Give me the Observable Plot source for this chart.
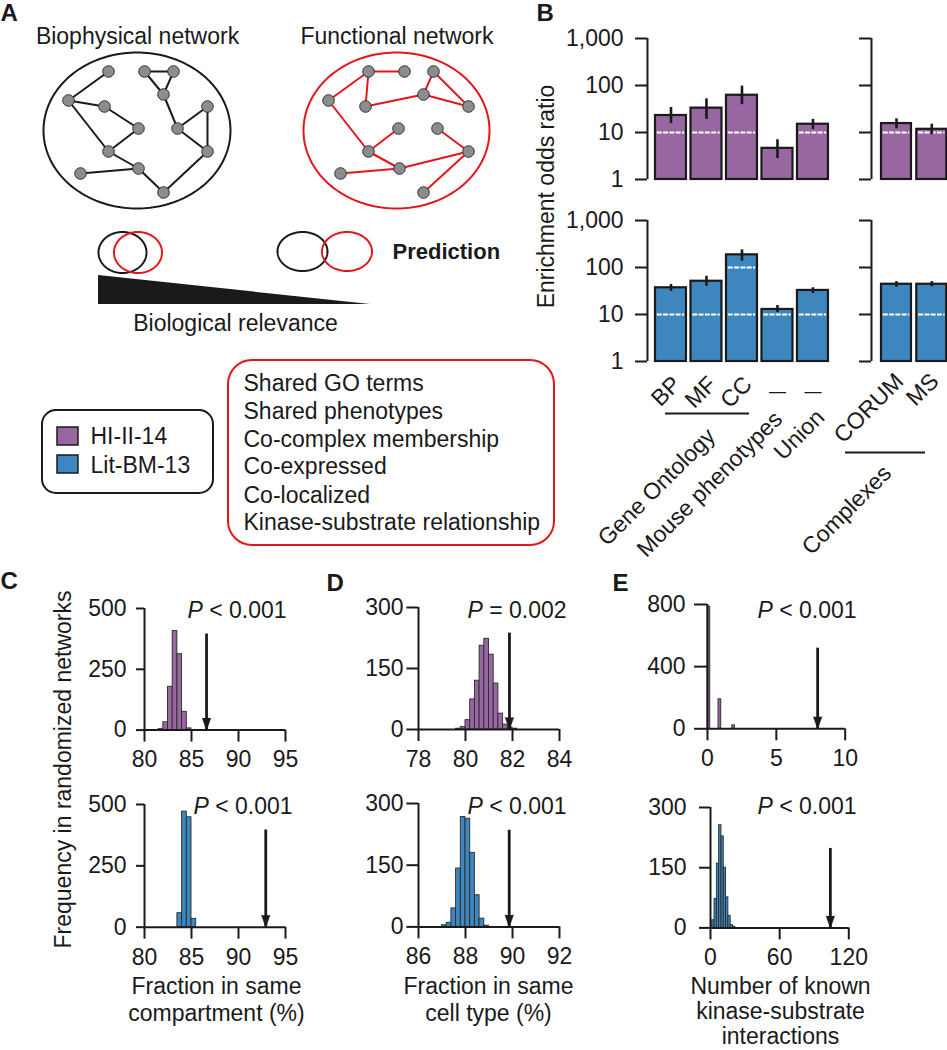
<!DOCTYPE html>
<html><head><meta charset="utf-8">
<script src="https://cdn.jsdelivr.net/npm/d3@7"></script>
<script src="https://cdn.jsdelivr.net/npm/@observablehq/plot@0.6"></script>
<style>
html,body{margin:0;padding:0;background:#fff;}
#page{position:relative;width:947px;height:1050px;overflow:hidden;background:#fff;font-family:"Liberation Sans",Arial,sans-serif;}
#page > div{position:absolute;}
</style></head><body><div id="page"></div>
<script>
// ---------------- DATA ----------------
const purple = "#9867a2", blue = "#3d87be", red = "#e3161c", ink = "#1a1a1a", nodeGray = "#8c8c8c";

// Panel A: network sketches (node coordinates in sketch units) and edges
const bioNodes = [[108,71],[144,71],[173,71],[163,94],[68,100],[104,106],[207,106],[138,128],[177,128],[108,151],[207,151],[138,168],[80,173],[163,192]];
const bioEdges = [[0,4],[4,5],[4,9],[5,7],[7,9],[9,11],[12,11],[11,13],[13,10],[10,8],[8,6],[6,10],[8,3],[3,1],[3,2],[1,2]];
const funNodes = [[368,71],[404,71],[433,71],[423,94],[328,100],[365,106],[468,106],[398,128],[437,128],[368,151],[468,151],[399,168],[340,173],[423,192]];
const funEdges = [[0,1],[0,4],[0,5],[5,3],[3,2],[3,6],[2,6],[4,9],[9,7],[9,11],[12,11],[11,10],[8,10],[10,13]];
const networkTitles = ["Biophysical network", "Functional network"];
const legendNames = ["HI-II-14", "Lit-BM-13"];
const featureList = ["Shared GO terms","Shared phenotypes","Co-complex membership","Co-expressed","Co-localized","Kinase-substrate relationship"];

// Panel B: enrichment odds ratios (log scale) with error bounds
const goCategories = ["BP","MF","CC","Mouse phenotypes","Union"];
const goTickLabels = ["BP","MF","CC","\u2014","\u2014"];
const complexCategories = ["CORUM","MS"];
const hiOdds = [23, 33, 62, 4.6, 15];
const hiLow  = [15.5, 19, 39, 2.8, 11.5];
const hiHigh = [34, 52, 97, 7, 19];
const hiComplexOdds = [15.5, 11.7];
const hiComplexLow  = [12, 9];
const hiComplexHigh = [19.5, 15];
const litOdds = [37, 51, 186, 12.8, 32.5];
const litLow  = [31, 40, 136, 11, 28];
const litHigh = [43.5, 65, 237, 15.5, 37];
const litComplexOdds = [44, 44];
const litComplexLow  = [38, 39];
const litComplexHigh = [50, 50];
const oddsTicks = [1, 10, 100, 1000];
const oddsGrid = [10, 100];

// Panels C-E: histograms of randomized networks
const cHiStarts = [81.5, 82, 82.5, 83, 83.5, 84, 84.5];
const cHiCounts = [4, 32, 178, 407, 312, 75, 7];
const cLitStarts = [83.5, 84, 84.5, 85];
const cLitCounts = [57, 471, 448, 34];
const dHiStarts = [79.6, 79.8, 80.0, 80.2, 80.4, 80.6, 80.8, 81.0, 81.2, 81.4, 81.6, 81.8, 82.0];
const dHiCounts = [2, 6, 23, 74, 120, 206, 223, 184, 113, 39, 12, 5, 2];
const dLitStarts = [87.0, 87.2, 87.4, 87.6, 87.8, 88.0, 88.2, 88.4, 88.6, 88.8];
const dLitCounts = [4, 10, 45, 142, 267, 263, 180, 77, 20, 3];
const eHiStarts = [0, 0.8, 1.8];
const eHiCounts = [785, 190, 22];
const eLitStarts = [1.5, 3.5, 5.5, 7.5, 9.5, 11.5, 13.5, 15.5, 17.5, 19.5];
const eLitCounts = [19, 72, 160, 256, 228, 150, 76, 30, 7, 3];
const observed = {cHi: 86.6, cLit: 92.9, dHi: 81.87, dLit: 89.86, eHi: 8, eLit: 104};
const pLabels = {cHi: "< 0.001", cLit: "< 0.001", dHi: "= 0.002", dLit: "< 0.001", eHi: "< 0.001", eLit: "< 0.001"};
const cTicksX = [80, 85, 90, 95], cTicksY = [0, 250, 500];
const dTicksXHi = [78, 80, 82, 84], dTicksXLit = [86, 88, 90, 92], dTicksY = [0, 150, 300];
const eTicksXHi = [0, 5, 10], eTicksYHi = [0, 400, 800];
const eTicksXLit = [0, 60, 120], eTicksYLit = [0, 150, 300];

// ---------------- LAYOUT ----------------
const FS = 23;
const FONT = "'Liberation Sans', Arial, sans-serif";
const baseStyle = {background: "transparent", overflow: "visible", maxWidth: "none", fontFamily: FONT, fontSize: FS + "px", color: ink};
const page = document.getElementById("page");
function mount(el, left, top) {
  const div = document.createElement("div");
  div.style.left = left + "px"; div.style.top = top + "px";
  div.appendChild(el); page.appendChild(div);
}
function framed(frame, pad, options) {
  const el = Plot.plot({
    width: pad.l + (frame.x1 - frame.x0) + pad.r,
    height: pad.t + (frame.y1 - frame.y0) + pad.b,
    marginLeft: pad.l, marginRight: pad.r, marginTop: pad.t, marginBottom: pad.b,
    style: baseStyle,
    ...options
  });
  mount(el, frame.x0 - pad.l, frame.y0 - pad.t);
}
// panel B geometry (bar slots in step units along a linear x scale)
const goLayout = {axis: 647, step: 35.5, offset: 0.225, barW: 0.873, domainMax: 5.1};
const cxLayout = {axis: 871, step: 35.3, offset: 0.283, barW: 0.85, domainMax: 2.2};
const slotCenter = (L, i) => L.axis + (i + L.offset + L.barW / 2) * L.step;

function T(text, x, baseline, o = {}) {
  const fs = o.fs || FS;
  return Plot.text([text], {x: x, y: baseline - 0.32 * fs, text: d => d, fontSize: fs,
    textAnchor: o.anchor || "middle", fontWeight: o.weight || "normal", fontStyle: o.style || "normal", fill: ink});
}
function R(text, x, y, rotate, o = {}) {
  const fs = o.fs || FS;
  return Plot.text([text], {x: x, y: y, text: d => d, fontSize: fs, rotate, textAnchor: o.anchor || "end", fill: ink});
}

// ---------------- OVERLAY (panel A drawing + free text) ----------------
const ellipseSpecs = [
  {cx: 136.5, cy: 130, rx: 93.5, ry: 78, c: ink},
  {cx: 396, cy: 130, rx: 93, ry: 78, c: red},
  {cx: 122, cy: 252, rx: 24, ry: 20.5, c: ink},
  {cx: 137.5, cy: 252, rx: 24, ry: 20.5, c: red},
  {cx: 302, cy: 251, rx: 25, ry: 19.5, c: ink},
  {cx: 346.5, cy: 251, rx: 25, ry: 19.5, c: red}
];
const ellipsePts = ellipseSpecs.flatMap((e, k) => d3.range(0, 360, 2).map(a => ({
  k, c: e.c, x: e.cx + e.rx * Math.cos(a * Math.PI / 180), y: e.cy + e.ry * Math.sin(a * Math.PI / 180)})));
const linkRows = (nodes, edges, c) => edges.map(([a, b]) => ({x1: nodes[a][0], y1: nodes[a][1], x2: nodes[b][0], y2: nodes[b][1], c}));
const links = [...linkRows(bioNodes, bioEdges, ink), ...linkRows(funNodes, funEdges, red)];
const nodes = [...bioNodes, ...funNodes];

const pStarts = {cHi: [187, 617], cLit: [193, 813], dHi: [467, 617], dLit: [467, 813], eHi: [757, 617], eLit: [757, 813]};
const pMarks = Object.keys(pStarts).flatMap(k => {
  const [x, b] = pStarts[k];
  return [T("P", x, b, {anchor: "start", style: "italic"}), T(pLabels[k], x + 0.667 * FS + 6.4, b, {anchor: "start"})];
});

// category labels under the Lit-BM-13 bars
const catLabelMarks = [
  ...goTickLabels.map((t, i) => t === "\u2014"
    ? T(t, slotCenter(goLayout, i), 396, {fs: 17})
    : R(t, slotCenter(goLayout, i) + 6, 380, -45)),
  ...complexCategories.map((t, i) => R(t, slotCenter(cxLayout, i) + 3, 377, -45))
];

const overlay = Plot.plot({
  width: 947, height: 1050, margin: 0,
  x: {domain: [0, 947], range: [0, 947], axis: null},
  y: {domain: [0, 1050], range: [0, 1050], axis: null},
  color: {type: "identity"},
  style: baseStyle,
  marks: [
    Plot.line(ellipsePts, {x: "x", y: "y", z: "k", stroke: "c", strokeWidth: 2, curve: "linear-closed"}),
    Plot.link(links, {x1: "x1", y1: "y1", x2: "x2", y2: "y2", stroke: "c", strokeWidth: 2}),
    Plot.dot(nodes, {x: d => d[0], y: d => d[1], r: 5.8, fill: nodeGray, stroke: "#333", strokeWidth: 1}),
    Plot.areaY([{x: 98, top: 275}, {x: 370, top: 304}], {x: "x", y1: 304, y2: "top", fill: ink}),
    Plot.rect([0], {x1: 42, x2: 213, y1: 410, y2: 493, rx: 14, fill: "none", stroke: ink, strokeWidth: 2}),
    Plot.rect([0], {x1: 228, x2: 554, y1: 360, y2: 545, rx: 24, fill: "none", stroke: red, strokeWidth: 2}),
    Plot.rect([purple, blue], {x1: 57, x2: 78, y1: (d, i) => 427 + i * 28, y2: (d, i) => 445 + i * 28, fill: d => d, stroke: ink, strokeWidth: 1.5}),
    T("A", 0, 20, {fs: 24, weight: "bold", anchor: "start"}),
    T(networkTitles[0], 137, 43),
    T(networkTitles[1], 396.5, 43),
    T("Prediction", 392, 258, {weight: "bold", anchor: "start", fs: 22}),
    T("Biological relevance", 235, 330),
    T(legendNames[0], 90, 443, {anchor: "start"}),
    T(legendNames[1], 90, 472, {anchor: "start"}),
    ...featureList.map((f, i) => T(f, 243, [390, 418, 446, 473, 502, 529][i], {anchor: "start"})),
    T("B", 536, 20, {fs: 24, weight: "bold", anchor: "start"}),
    R("Enrichment odds ratio", 546, 196, -90, {anchor: "middle"}),
    ...catLabelMarks,
    Plot.ruleY([413], {x1: 665, x2: 749, stroke: ink, strokeWidth: 2}),
    Plot.ruleY([452], {x1: 845, x2: 925, stroke: ink, strokeWidth: 2}),
    R("Gene Ontology", 711, 432, -45),
    R("Mouse phenotypes", 778, 415, -45),
    R("Union", 820, 413, -45),
    R("Complexes", 887, 469, -45),
    T("C", 0, 588, {fs: 24, weight: "bold", anchor: "start"}),
    T("D", 326, 590, {fs: 24, weight: "bold", anchor: "start"}),
    T("E", 612, 590, {fs: 24, weight: "bold", anchor: "start"}),
    R("Frequency in randomized networks", 63, 769, -90, {anchor: "middle"}),
    T("Fraction in same", 216, 993), T("compartment (%)", 216, 1020),
    T("Fraction in same", 488, 993), T("cell type (%)", 488, 1020),
    T("Number of known", 780, 993), T("kinase-substrate", 780, 1018), T("interactions", 780, 1043),
    ...pMarks
  ]
});
mount(overlay, 0, 0);

// ---------------- PANEL B ----------------
function oddsChart(L, yTop, yBottom, {cats, odds, lo, hi, fill, showLabels}) {
  const rows = cats.map((c, i) => ({i, c, v: odds[i], lo: lo[i], hi: hi[i]}));
  const left = d => d.i + L.offset, right = d => d.i + L.offset + L.barW, mid = d => d.i + L.offset + L.barW / 2;
  const grid = rows.flatMap(d => oddsGrid.filter(g => d.v > g * 1.08).map(g => ({...d, g})));
  framed({x0: L.axis, x1: L.axis + L.domainMax * L.step, y0: yTop, y1: yBottom}, {l: 110, r: 5, t: 20, b: 10}, {
    x: {domain: [0, L.domainMax], axis: null},
    y: {type: "log", domain: [1, 1000]},
    marks: [
      Plot.rect(rows, {x1: left, x2: right, y1: 1, y2: "v", fill, stroke: ink, strokeWidth: 2.2}),
      Plot.ruleY(grid, {x1: d => left(d) + 0.05, x2: d => right(d) - 0.05, y: "g", stroke: "white", strokeWidth: 2, strokeDasharray: "5,1.3"}),
      Plot.ruleX(rows, {x: mid, y1: "lo", y2: "hi", stroke: ink, strokeWidth: 2.6}),
      Plot.ruleX([0], {y1: 1, y2: 1000, stroke: ink, strokeWidth: 2}),
      Plot.axisY({ticks: oddsTicks, tickFormat: showLabels ? d3.format(",") : () => "", tickSize: 12, tickPadding: 12, strokeWidth: 2, label: null})
    ]
  });
}
oddsChart(goLayout, 38, 179, {cats: goCategories, odds: hiOdds, lo: hiLow, hi: hiHigh, fill: purple, showLabels: true});
oddsChart(cxLayout, 38, 179, {cats: complexCategories, odds: hiComplexOdds, lo: hiComplexLow, hi: hiComplexHigh, fill: purple, showLabels: false});
oddsChart(goLayout, 220, 361, {cats: goCategories, odds: litOdds, lo: litLow, hi: litHigh, fill: blue, showLabels: true});
oddsChart(cxLayout, 220, 361, {cats: complexCategories, odds: litComplexOdds, lo: litComplexLow, hi: litComplexHigh, fill: blue, showLabels: false});

// ---------------- PANELS C-E ----------------
function histChart(frame, {xDomain, yDomain, xTicks, yTicks, starts, counts, binWidth, fill, arrowX, arrowTop, yTickSize, yTickPad}) {
  const rows = starts.map((s, i) => ({s, e: s + binWidth, n: counts[i]}));
  framed(frame, {l: 90, r: 20, t: 20, b: 50}, {
    x: {domain: xDomain}, y: {domain: yDomain},
    marks: [
      Plot.rect(rows, {x1: "s", x2: "e", y1: 0, y2: "n", fill, stroke: "#2a2a2a", strokeWidth: 0.9}),
      Plot.ruleY([0], {x1: xDomain[0], x2: xDomain[1], stroke: ink, strokeWidth: 2}),
      Plot.ruleX([xDomain[0]], {y1: 0, y2: yDomain[1], stroke: ink, strokeWidth: 2}),
      Plot.ruleX([arrowX], {y1: 0, y2: arrowTop, stroke: ink, strokeWidth: 2.8}),
      Plot.vector([arrowX], {x: d => d, y: 0, rotate: 180, length: 12, r: 4.2, shape: "spike", anchor: "end", fill: ink, stroke: ink, strokeWidth: 0.6}),
      Plot.axisX({ticks: xTicks, tickFormat: d => String(d), tickSize: 12, tickPadding: 9, strokeWidth: 2, label: null}),
      Plot.axisY({ticks: yTicks, tickFormat: d => String(d), tickSize: yTickSize, tickPadding: yTickPad, strokeWidth: 2, label: null})
    ]
  });
}
histChart({x0: 144, x1: 285, y0: 607.7, y1: 729.3},
  {xDomain: [80, 95], yDomain: [0, 500], xTicks: cTicksX, yTicks: cTicksY, starts: cHiStarts, counts: cHiCounts, binWidth: 0.5, fill: purple, arrowX: observed.cHi, arrowTop: 395, yTickSize: 8, yTickPad: 10});
histChart({x0: 144, x1: 285, y0: 804, y1: 926.7},
  {xDomain: [80, 95], yDomain: [0, 500], xTicks: cTicksX, yTicks: cTicksY, starts: cLitStarts, counts: cLitCounts, binWidth: 0.5, fill: blue, arrowX: observed.cLit, arrowTop: 396, yTickSize: 8, yTickPad: 10});
histChart({x0: 418.3, x1: 559.3, y0: 607.3, y1: 729.3},
  {xDomain: [78, 84], yDomain: [0, 300], xTicks: dTicksXHi, yTicks: dTicksY, starts: dHiStarts, counts: dHiCounts, binWidth: 0.2, fill: purple, arrowX: observed.dHi, arrowTop: 237, yTickSize: 11.6, yTickPad: 3.4});
histChart({x0: 418.3, x1: 559.3, y0: 803.3, y1: 926.7},
  {xDomain: [86, 92], yDomain: [0, 300], xTicks: dTicksXLit, yTicks: dTicksY, starts: dLitStarts, counts: dLitCounts, binWidth: 0.2, fill: blue, arrowX: observed.dLit, arrowTop: 235, yTickSize: 11.6, yTickPad: 3.4});
histChart({x0: 707.3, x1: 845, y0: 604, y1: 728.3},
  {xDomain: [0, 10], yDomain: [0, 800], xTicks: eTicksXHi, yTicks: eTicksYHi, starts: eHiStarts, counts: eHiCounts, binWidth: 0.2, fill: purple, arrowX: observed.eHi, arrowTop: 519, yTickSize: 13, yTickPad: 9});
histChart({x0: 710, x1: 848.3, y0: 807.3, y1: 927.7},
  {xDomain: [0, 120], yDomain: [0, 300], xTicks: eTicksXLit, yTicks: eTicksYLit, starts: eLitStarts, counts: eLitCounts, binWidth: 2, fill: blue, arrowX: observed.eLit, arrowTop: 198, yTickSize: 11, yTickPad: 13});
</script>
</body></html>
